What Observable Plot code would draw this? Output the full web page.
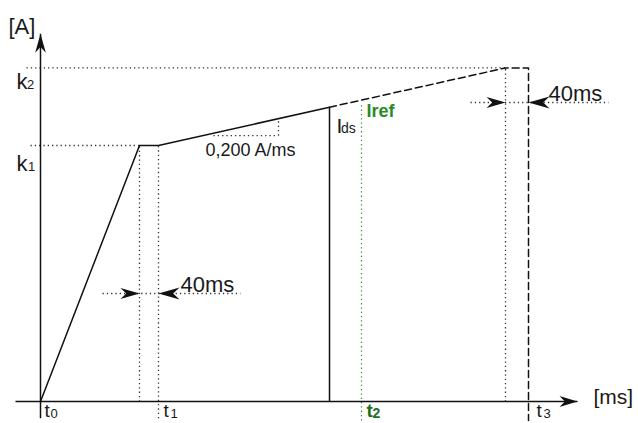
<!DOCTYPE html>
<html><head><meta charset="utf-8">
<script src="https://cdn.jsdelivr.net/npm/d3@7"></script>
<script src="https://cdn.jsdelivr.net/npm/@observablehq/plot@0.6"></script>
<style>html,body{margin:0;padding:0;background:#fff}#chart svg{display:block}</style>
</head><body><div id="chart"></div>
<script>
// ---- data (time in ms, current in A; schematic values) ----
const curveT = [0, 198, 236, 578];
const curveI = [0, 458, 458, 526.4];
const extT = [578, 930, 976, 976];
const extI = [526.4, 596.8, 596.8, -34];

// solid segments: x axis, y axis, Ids drop
const solidX1 = [-50, 0, 578];
const solidY1 = [0, -30, 0];
const solidX2 = [1074, 0, 578];
const solidY2 = [0, 658, 526.4];

// dotted guides: k1, k2, t-verticals, slope triangle, 40ms lines
const dotX1 = [-20, -28, 198, 236, 930, 346, 476, 124, 860];
const dotY1 = [458, 596.8, 0, -30, 0, 475.8, 475.8, 193.2, 534.9];
const dotX2 = [198, 930, 198, 236, 930, 476, 476, 400, 1136];
const dotY2 = [458, 596.8, 458, 458, 596.8, 475.8, 506, 193.2, 534.9];

// green reference guide (t2 / Iref)
const refT = [642];
const refI1 = [-34];
const refI2 = [533];

// arrow tips
const axisUpT = [0], axisUpI = [658];
const axisRightT = [1074], axisRightI = [0];
const gapRightT = [198, 930], gapRightI = [193.2, 534.9];
const gapLeftT = [236, 976], gapLeftI = [193.2, 534.9];

// labels
const labelText = ["[A]", "[ms]", "k", "2", "k", "1", "t", "0", "t", "1", "t", "3", "I", "ds", "40ms", "40ms", "0,200 A/ms"];
const labelT = [-64, 1106, -48, -27, -48, -25, 8, 20, 246, 260, 992, 1006, 592, 601, 280, 1016, 330];
const labelI = [669.6, 7.5, 572.4, 566.7, 425.8, 420, -17.7, -21.5, -17.7, -21.5, -17.7, -21.5, 492.7, 488.7, 209.3, 551, 448.7];
const labelSize = [22, 21, 22, 13, 22, 13, 19, 13, 19, 13, 19, 13, 21, 14, 22, 22, 18];

const greenText = ["t", "2", "Iref"];
const greenT = [652, 664, 652];
const greenI = [-17.7, -21.5, 519];
const greenSize = [19, 14, 18];
const greenFill = ["#1f6e1f", "#1f6e1f", "#2a8a2a"];

// ---- helpers ----
function stealth(dx, dy, ratio) {
  return {
    draw(ctx, size) {
      const L = Math.sqrt(size / Math.PI);
      const w = L * ratio;
      const nx = -dy, ny = dx;
      ctx.moveTo(0, 0);
      ctx.lineTo(-dx * L + nx * w, -dy * L + ny * w);
      ctx.lineTo(-dx * L * 0.7, -dy * L * 0.7);
      ctx.lineTo(-dx * L - nx * w, -dy * L - ny * w);
      ctx.closePath();
    }
  };
}
const idx = a => a.map((_, i) => i);
const font = "'Liberation Sans', Arial, sans-serif";
const ink = "#111";

const chart = Plot.plot({
  width: 638,
  height: 423,
  margin: 0,
  style: {background: "#fff", fontFamily: font},
  x: {domain: [-80, 1196], axis: null},
  y: {domain: [-39.4, 717.4], axis: null},
  color: {type: "identity"},
  marks: [
    Plot.link(idx(dotX1), {x1: i => dotX1[i], y1: i => dotY1[i], x2: i => dotX2[i], y2: i => dotY2[i],
      stroke: "#333", strokeWidth: 1.3, strokeDasharray: "1.3,3"}),
    Plot.link(refT, {x1: d => d, y1: () => refI1[0], x2: d => d, y2: () => refI2[0],
      stroke: "#3a8a3a", strokeWidth: 1.2, strokeDasharray: "1.3,3"}),
    Plot.link(idx(solidX1), {x1: i => solidX1[i], y1: i => solidY1[i], x2: i => solidX2[i], y2: i => solidY2[i],
      stroke: ink, strokeWidth: 1.5}),
    Plot.line(idx(curveT), {x: i => curveT[i], y: i => curveI[i], stroke: ink, strokeWidth: 1.5}),
    Plot.line(idx(extT), {x: i => extT[i], y: i => extI[i], stroke: ink, strokeWidth: 1.5, strokeDasharray: "7,4"}),
    Plot.dot(idx(axisUpT), {x: i => axisUpT[i], y: i => axisUpI[i], r: 19, symbol: stealth(0, -1, 0.28), fill: ink, stroke: "none"}),
    Plot.dot(idx(axisRightT), {x: i => axisRightT[i], y: i => axisRightI[i], r: 18, symbol: stealth(1, 0, 0.3), fill: ink, stroke: "none"}),
    Plot.dot(idx(gapRightT), {x: i => gapRightT[i], y: i => gapRightI[i], r: 19, symbol: stealth(1, 0, 0.29), fill: ink, stroke: "none"}),
    Plot.dot(idx(gapLeftT), {x: i => gapLeftT[i], y: i => gapLeftI[i], r: 21, symbol: stealth(-1, 0, 0.29), fill: ink, stroke: "none"}),
    Plot.text(idx(labelText), {x: i => labelT[i], y: i => labelI[i], text: i => labelText[i], fontSize: i => labelSize[i],
      textAnchor: "start", fill: "#1a1a1a", fontFamily: font}),
    Plot.text(idx(greenText), {x: i => greenT[i], y: i => greenI[i], text: i => greenText[i], fontSize: i => greenSize[i],
      textAnchor: "start", fill: i => greenFill[i], fontWeight: "bold", fontFamily: font})
  ]
});
document.getElementById("chart").append(chart);
</script>
</body></html>
